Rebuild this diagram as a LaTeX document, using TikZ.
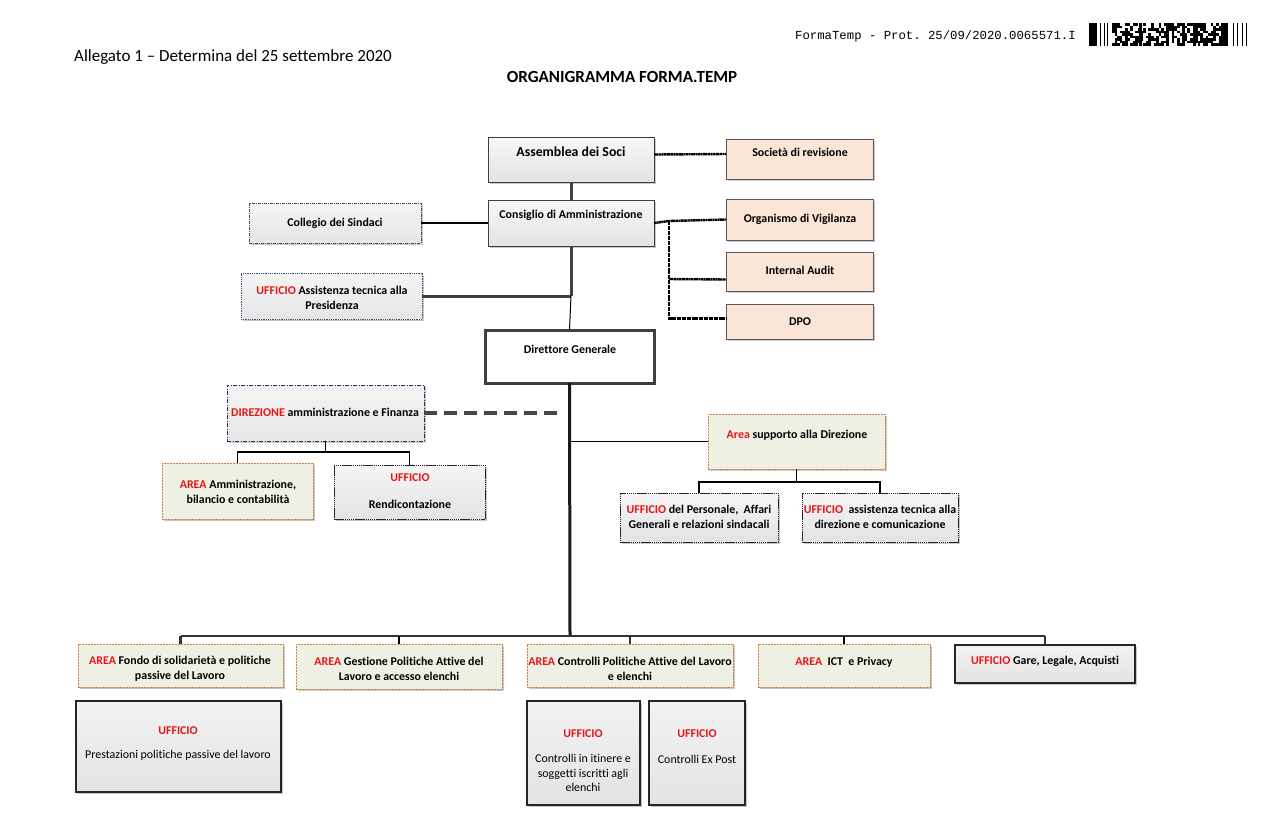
\documentclass[tikz,border=0pt]{standalone}
\usepackage{fontspec}
\setmainfont{Carlito}[Ligatures=NoCommon]
\setmonofont{Liberation Mono}
\usetikzlibrary{shadows}
\definecolor{peach}{RGB}{251,229,214}
\definecolor{areagreen}{RGB}{238,240,228}
\definecolor{orangeB}{RGB}{205,130,70}
\definecolor{navyA}{RGB}{31,45,90}
\definecolor{navyB}{RGB}{60,78,122}
\definecolor{redT}{RGB}{235,20,20}
\newcommand\rt[1]{\textcolor{redT}{#1}}
\newcommand\bx[6]{%
  \pgfmathsetmacro\bw{#5-#3}\pgfmathsetmacro\bh{#6-#4}%
  \node[#2, minimum width=\bw pt, minimum height=\bh pt, inner sep=0pt, outer sep=0pt] (#1) at ({(#3+#5)/2},{(#4+#6)/2}) {};}
\tikzset{
  x=1pt, y=-1pt,
  shad/.style={drop shadow={shadow xshift=1.6pt, shadow yshift=-1.6pt, fill=black, opacity=.22}},
  graybox/.style={shad, draw=black!75, line width=1pt, top color=black!3, bottom color=black!11},
  peachbox/.style={shad, draw=black!65, line width=0.9pt, fill=peach},
  areabox/.style={shad, draw=orangeB, line width=1pt, dash pattern=on 2pt off 1pt, fill=areagreen},
  ufbox/.style={shad, draw=black!85, line width=1pt, dash pattern=on 1.5pt off 0.6pt, top color=black!4, bottom color=black!11},
  solidbox/.style={shad, draw=black!85, line width=1.1pt, top color=black!5, bottom color=black!11},
  dgbox/.style={shad, draw=black!75, line width=3pt, fill=white},
  direzbox/.style={shad, draw=navyA, line width=1pt, dash pattern=on 4pt off 1.5pt on 1pt off 1.5pt, top color=black!4, bottom color=black!10},
  assistbox/.style={shad, draw=navyB, line width=1pt, dash pattern=on 1pt off 0.8pt, top color=black!4, bottom color=black!10},
  collbox/.style={shad, draw=black!70, line width=1pt, dash pattern=on 3pt off 1pt on 1pt off 1pt, top color=black!4, bottom color=black!10},
  lbl/.style={font=\fontsize{11.9}{14.6}\selectfont\bfseries, align=center, inner sep=0pt},
  lblr/.style={font=\fontsize{11.9}{14.6}\selectfont, align=center, inner sep=0pt},
  thickc/.style={line width=3pt, draw=black!75},
  thinc/.style={line width=1.2pt, draw=black},
  busc/.style={line width=2.6pt, draw=black!80},
  dotc/.style={line width=2.4pt, draw=black, dash pattern=on 2pt off 0.45pt},
  dashc/.style={line width=3.6pt, draw=black!72, dash pattern=on 13pt off 7pt},
}
\begin{document}
\begin{tikzpicture}
\useasboundingbox[fill=white] (0,0) rectangle (1273,831);

% header
\node[anchor=west, inner sep=0pt, font=\fontsize{17}{19}\selectfont] (alleg) at (74,57) {Allegato 1 – Determina del 25 settembre 2020};
\node[inner sep=0pt, font=\fontsize{17}{19}\selectfont\bfseries] (title) at (622,77) {ORGANIGRAMMA FORMA.TEMP};
\node[anchor=west, inner sep=0pt, font=\fontsize{12.3}{13}\ttfamily] (prot) at (795,36) {FormaTemp - Prot. 25/09/2020.0065571.I};
% barcode
\begin{scope}
\fill (1089,23) rectangle (1097,46);
\foreach \xx in {1100,1103.5,1107} {\fill (\xx,23) rectangle ++(1.4,23);}
\fill (1221,23) rectangle (1228,46);
\foreach \xx in {1233,1237,1241.5,1246} {\fill (\xx,23) rectangle ++(1.4,23);}
\foreach \xx in {1139,1166,1193} {\fill (\xx,23) rectangle ++(2.6,23);}
\pgfmathsetseed{4217}
\foreach \i in {0,...,41} {
  \foreach \j in {0,...,8} {
    \pgfmathsetmacro\rr{rnd}
    \ifdim\rr pt>0.45pt
      \fill ({1112+\i*2.6},{23+\j*2.56}) rectangle ++(2.6,2.56);
    \fi
  }
}
\end{scope}

% boxes
\bx{assem}{graybox}{488}{137}{654}{182}
\bx{soc}{peachbox}{726}{139}{873}{179}
\bx{cons}{graybox}{488}{200}{654}{246}
\bx{coll}{collbox}{249}{203}{421}{243}
\bx{org}{peachbox}{726}{199}{873}{240}
\bx{ia}{peachbox}{726}{252}{873}{291}
\bx{dpo}{peachbox}{726}{304}{873}{339}
\bx{assist}{assistbox}{241}{273}{422}{319}
\bx{dg}{dgbox}{485}{330}{654}{383}
\bx{direz}{direzbox}{227}{385}{424}{441}
\bx{aam}{areabox}{162}{463}{313}{519}
\bx{ufr}{ufbox}{334}{465}{485}{519}
\bx{asup}{areabox}{708}{414}{885}{469}
\bx{pers}{ufbox}{620}{493}{778}{542}
\bx{ufa}{ufbox}{802}{493}{958}{542}
\bx{afondo}{areabox}{78}{644}{283}{687}
\bx{agest}{areabox}{296}{644}{502}{689}
\bx{acontr}{areabox}{527}{644}{733}{687}
\bx{aict}{areabox}{758}{644}{930}{687}
\bx{gare}{solidbox}{955}{645}{1135}{683}
\bx{prest}{solidbox}{76}{701}{281}{792}
\bx{itin}{solidbox}{527}{701}{640}{805}
\bx{expost}{solidbox}{649}{701}{745}{805}

% texts
\node[lbl, font=\fontsize{13.8}{16}\selectfont\bfseries] (t-assem) at (571,152) {Assemblea dei Soci};
\node[lbl] (t-soc) at (800,152) {Società di revisione};
\node[lbl] (t-cons) at (571,215) {Consiglio di Amministrazione};
\node[lbl] (t-coll) at (335,223) {Collegio dei Sindaci};
\node[lbl] (t-org) at (800,219) {Organismo di Vigilanza};
\node[lbl] (t-ia) at (800,270) {Internal Audit};
\node[lbl] (t-dpo) at (800,322) {DPO};
\node[lbl] (t-assist) at (332,298) {\rt{UFFICIO} Assistenza tecnica alla\\Presidenza};
\node[lbl] (t-dg) at (570,349) {Direttore Generale};
\node[lbl] (t-direz) at (325,412) {\rt{DIREZIONE} amministrazione e Finanza};
\node[lbl] (t-aam) at (238,492) {\rt{AREA} Amministrazione,\\bilancio e contabilità};
\node[lbl] (t-ufr1) at (410,478) {\rt{UFFICIO}};
\node[lbl] (t-ufr2) at (410,504) {Rendicontazione};
\node[lbl] (t-asup) at (797,435) {\rt{Area} supporto alla Direzione};
\node[lbl] (t-pers) at (699,517) {\rt{UFFICIO} del Personale,\ \ Affari\\Generali e relazioni sindacali};
\node[lbl] (t-ufa) at (880,517) {\rt{UFFICIO}\ \ assistenza tecnica alla\\direzione e comunicazione};
\node[lbl] (t-afondo) at (180,669) {\rt{AREA} Fondo di solidarietà e politiche\\passive del Lavoro};
\node[lbl] (t-agest) at (399,669) {\rt{AREA} Gestione Politiche Attive del\\Lavoro e accesso elenchi};
\node[lbl] (t-acontr) at (630,669) {\rt{AREA} Controlli Politiche Attive del Lavoro\\e elenchi};
\node[lbl] (t-aict) at (844,662) {\rt{AREA}\ \ ICT\ \ e Privacy};
\node[lbl] (t-gare) at (1045,661) {\rt{UFFICIO} Gare, Legale, Acquisti};
\node[lbl] (t-prest1) at (178,731) {\rt{UFFICIO}};
\node[lblr] (t-prest2) at (178,755) {Prestazioni politiche passive del lavoro};
\node[lbl] (t-itin1) at (583,734) {\rt{UFFICIO}};
\node[lblr] (t-itin2) at (583,773) {Controlli in itinere e\\soggetti iscritti agli\\elenchi};
\node[lbl] (t-expo1) at (697,734) {\rt{UFFICIO}};
\node[lblr] (t-expo2) at (697,759) {Controlli Ex Post};

% connectors
\draw[thickc] (assem.south) -- (cons.north);
\draw[dotc] ([yshift=5pt]assem.east) -- ([yshift=5pt]soc.west);
\draw[thinc] (coll.east) -- (cons.west);
\coordinate (jv) at (669,221);
\draw[dotc] (cons.east) -- (jv) -- (org.west);
\draw[dotc] (jv) |- ([yshift=3pt]dpo.west);
\draw[dotc] (jv |- 0,279) -- ([yshift=-8pt]ia.west);
\coordinate (ja) at (571,296);
\draw[thickc] (cons.south) -- (ja);
\draw[thickc] (assist.east) -- (ja);
\draw[line width=1pt] (ja) -- (dg.north);
\coordinate (bj) at (570,636);
\draw[line width=3pt, draw=black!90] (dg.south) -- (bj);
\coordinate (dend) at (563,413);
\draw[dashc] (direz.east) -- (dend);
\draw[thinc] (dg.south |- asup.west) -- (asup.west);
\draw[thinc] (direz.south) -- ++(0,11) coordinate (dj) -| (aam.north);
\draw[thinc] (dj) -| (ufr.north);
\draw[thinc] (asup.south) -- ++(0,13) coordinate (sj) -| (pers.north);
\draw[thinc] (sj) -| (ufa.north);
\draw[busc] (afondo.north |- bj) -- (gare.north |- bj);
\draw[busc] (afondo.north |- bj) -- (afondo.north);
\draw[thinc] (agest.north |- bj) -- (agest.north);
\draw[busc] (acontr.north |- bj) -- (acontr.north);
\draw[thinc] (aict.north |- bj) -- (aict.north);
\draw[busc] (gare.north |- bj) -- (gare.north);
\end{tikzpicture}
\end{document}
